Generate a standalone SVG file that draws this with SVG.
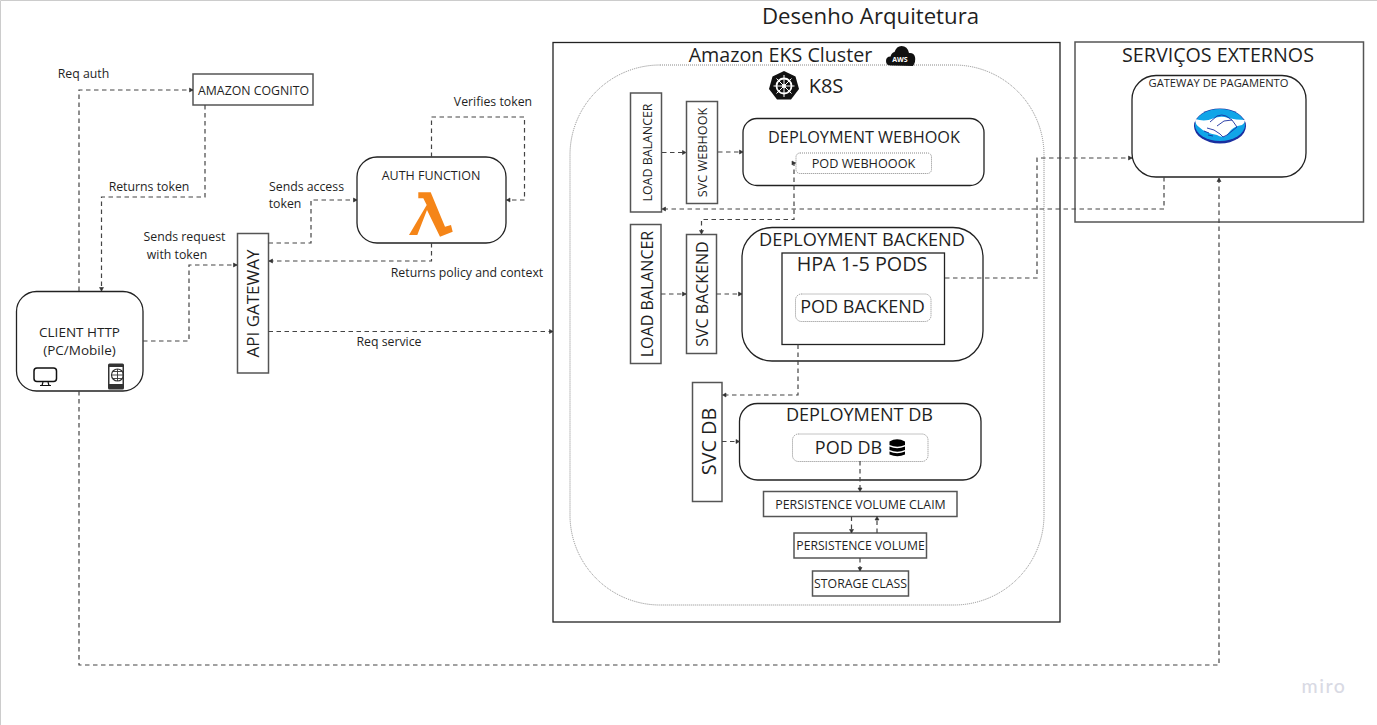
<svg xmlns="http://www.w3.org/2000/svg" width="1377" height="725" viewBox="0 0 1377 725">
<style>
text{font-family:"Open Sans","Noto Sans","DejaVu Sans",sans-serif;fill:#1f1f1f;text-anchor:middle}
.n{fill:#fff;stroke:#222;stroke-width:1.3}
.g{fill:#fff;stroke:#555;stroke-width:1.5}
.d{fill:#fff;stroke:#888;stroke-width:1;stroke-dasharray:1 1}
.c{fill:none;stroke:#444;stroke-width:1.2;stroke-dasharray:4.500 3.500}
.l{font-size:12.300px}
</style>
<defs>
<marker id="a" markerWidth="6" markerHeight="6" refX="5" refY="3" orient="auto-start-reverse" markerUnits="userSpaceOnUse"><path d="M1.500 1L5 3L1.500 5z" fill="#333" stroke="#333" stroke-width=".6"/></marker>
</defs>
<rect width="1377" height="725" fill="#fff"/>
<path d="M.5 725V.5H1377" fill="none" stroke="#ccc"/>
<text x="870.500" y="24" font-size="22.200">Desenho Arquitetura</text>
<g id="eks"><rect class="n" x="553" y="42.500" width="507" height="579.500"/></g>
<g id="k8s"><rect class="d" x="570" y="65" width="474" height="540" rx="90"/></g>
<g id="eks-title"><text x="780.500" y="62" font-size="19.700">Amazon EKS Cluster</text>
<path d="M891 65.500q-5 0-5-4.500t4.500-4.500q1-4 4-4.500q2-6 7-6q6 0 7.500 7q5-.5 6 4t-2 9z" fill="#111"/><text x="900" y="62" font-size="7" font-weight="700" style="fill:#fff">AWS</text></g>
<g id="k8s-title"><path d="M784 71l11.500 5.500 3.500 12.500-8 10.500h-14l-8-10.500 3.500-12.500z" fill="#111"/><circle cx="784" cy="86" r="7.500" fill="none" stroke="#fff" stroke-width="1.800"/><path d="M784 75v22M773.500 86h21M776.500 78.500l15 15M791.500 78.500l-15 15" stroke="#fff" stroke-width="1"/><circle cx="784" cy="86" r="2" fill="#fff"/><text x="826" y="93" font-size="20">K8S</text></g>
<g id="external"><rect class="g" x="1075" y="42" width="288.500" height="180"/><text x="1218" y="62" font-size="19.700">SERVIÇOS EXTERNOS</text></g>

<g id="edge-labels" class="l">
<text x="83.500" y="78">Req auth</text>
<text x="149" y="191">Returns token</text>
<text x="306.500" y="191">Sends access</text><text x="285" y="208">token</text>
<text x="184.500" y="241">Sends request</text><text x="177" y="259">with token</text>
<text x="493" y="106">Verifies token</text>
<text x="467" y="277">Returns policy and context</text>
<text x="389" y="346">Req service</text>
</g>

<g id="client"><rect class="n" x="16.500" y="291.500" width="126.500" height="99.500" rx="20"/><text x="79.500" y="337" font-size="13.500">CLIENT HTTP</text><text x="79.500" y="355" font-size="13.500">(PC/Mobile)</text>
<rect x="34" y="368" width="22.500" height="13.500" rx="3" fill="none" stroke="#111" stroke-width="1.500"/><path d="M40 385.500h11M43 382l-1 3.500M48 382l1 3.500" stroke="#111" stroke-width="1.200" fill="none"/>
<rect x="108" y="363.500" width="16" height="26" rx="1.500" fill="#333"/><rect x="109.500" y="367" width="13" height="17" fill="#fff"/><circle cx="117.500" cy="375" r="6" fill="none" stroke="#333" stroke-width="1.200"/><path d="M111.500 375h12M117.500 369v12M113 371.500h9M113 378.500h9" stroke="#333" stroke-width=".9"/></g>
<g id="cognito"><rect class="g" x="193" y="74" width="120" height="31"/><text x="253.500" y="95" font-size="12.300">AMAZON COGNITO</text></g>
<g id="api"><rect class="g" x="237.500" y="233.500" width="31" height="139.500"/><text transform="translate(259 303.500) rotate(-90)" font-size="17">API GATEWAY</text></g>
<g id="auth"><rect class="n" x="357" y="157" width="149" height="86" rx="20"/><text x="431" y="180" font-size="12.500">AUTH FUNCTION</text><path d="M418.300 192.300H430.700L445 226.700L451 225L452.700 231.700L440 236.700L427 210L417.300 235H409L426.700 205L423.300 198.300H418.300z" fill="#f58518"/></g>
<g id="lb1"><rect class="g" x="630.500" y="93" width="31" height="119"/><text transform="translate(651.500 152.500) rotate(-90)" font-size="12.400">LOAD BALANCER</text></g>
<g id="svc-webhook"><rect class="g" x="686.500" y="101.500" width="31" height="102"/><text transform="translate(707 152.500) rotate(-90)" font-size="12.700">SVC WEBHOOK</text></g>
<g id="dep-webhook"><rect class="n" x="743" y="118.500" width="241" height="67" rx="14"/><text x="864" y="143" font-size="16.300">DEPLOYMENT WEBHOOK</text></g>
<g id="pod-webhook"><rect class="d" x="796" y="153" width="135.500" height="20.500" rx="4"/><text x="863.500" y="168" font-size="12.700">POD WEBHOOOK</text></g>
<g id="lb2"><rect class="g" x="630.500" y="224.500" width="30.500" height="139"/><text transform="translate(652.500 294) rotate(-90)" font-size="16">LOAD BALANCER</text></g>
<g id="svc-backend"><rect class="g" x="686.500" y="234.500" width="30" height="119"/><text transform="translate(708 294) rotate(-90)" font-size="16">SVC BACKEND</text></g>
<g id="dep-backend"><rect class="n" x="742" y="227.500" width="241" height="133.500" rx="30"/><text x="862" y="246" font-size="18.200">DEPLOYMENT BACKEND</text></g>
<g id="hpa"><rect class="n" x="782" y="253" width="162.500" height="91.500"/><text x="862" y="271" font-size="19.800">HPA 1-5 PODS</text></g>
<g id="pod-backend"><rect class="d" x="795.500" y="294" width="135.500" height="27.500" rx="6"/><text x="862.500" y="313" font-size="18">POD BACKEND</text></g>
<g id="svc-db"><rect class="g" x="692.500" y="382.500" width="29.500" height="119"/><text transform="translate(715.500 441.500) rotate(-90)" font-size="19.800">SVC DB</text></g>
<g id="dep-db"><rect class="n" x="739.500" y="403.500" width="241.500" height="76.500" rx="18"/><text x="859.500" y="421" font-size="18.100">DEPLOYMENT DB</text></g>
<g id="pod-db"><rect class="d" x="792.500" y="434" width="135.500" height="27.500" rx="6"/><text x="848.500" y="454" font-size="18">POD DB</text><path d="M889.500 441.500q7.500-4.500 15.500 0v3.500q-7.500 3.500-15.500 0zM889.500 446.500q7.500 3.500 15.500 0v3.500q-7.500 3.500-15.500 0zM889.500 451.500q7.500 3.500 15.500 0v3q-7.500 3.500-15.500 0z" fill="#000"/></g>
<g id="pvc"><rect class="g" x="763.500" y="491.500" width="193.500" height="25"/><text x="860.500" y="509" font-size="12.400">PERSISTENCE VOLUME CLAIM</text></g>
<g id="pv"><rect class="g" x="794" y="533" width="132.500" height="25"/><text x="860.500" y="550" font-size="12.200">PERSISTENCE VOLUME</text></g>
<g id="sc"><rect class="g" x="812.500" y="571" width="96" height="25"/><text x="860.500" y="588" font-size="12.300">STORAGE CLASS</text></g>
<g id="gateway"><rect class="n" x="1132" y="75.500" width="174" height="101.500" rx="24"/><text x="1218.500" y="87" font-size="11.200">GATEWAY DE PAGAMENTO</text>
<ellipse cx="1220" cy="126" rx="26" ry="17.500" fill="#1a2fa0"/><ellipse cx="1220" cy="125" rx="25" ry="16" fill="#10a5e8"/><path d="M1195 119q10 3 18-.5 8-3 15-.5 8 2 17 2 0 3-3 5-7 1-11 5l-5 6q-5 2-9-1-12-2-18-8-4-3-4-8z" fill="#fff"/><path d="M1210 122l7-6q5-2 9 0l6 4 5 7M1232 120l-8 1-7 5M1237 127l-10 8-4 2M1207 128l7 2 6 4 3 3M1204 131l5 2M1208 135l5 1" fill="none" stroke="#1a2fa0" stroke-width=".9"/></g>
<text x="1324" y="693" font-size="19.500" font-weight="500" letter-spacing="1.600" style="fill:#d9dae4;font-family:Lato,sans-serif">miro</text>

<g id="connectors">
<path class="c" marker-end="url(#a)" d="M79 291V90H193"/>
<path class="c" marker-end="url(#a)" d="M79 391V665H1219V178"/>
<path class="c" marker-end="url(#a)" d="M205 105V197H101.500V291"/>
<path class="c" marker-end="url(#a)" d="M143 341H189V265H237"/>
<path class="c" marker-end="url(#a)" d="M268.500 243H311V200H357"/>
<path class="c" marker-end="url(#a)" d="M431.500 243V261H269"/>
<path class="c" marker-end="url(#a)" d="M431.500 157V117H524.500V200H506.500"/>
<path class="c" marker-end="url(#a)" d="M268.500 331.500H553"/>
<path class="c" marker-end="url(#a)" d="M662 152.500H686"/>
<path class="c" marker-end="url(#a)" d="M718 152H743"/>
<path class="c" marker-end="url(#a)" d="M661 294H686"/>
<path class="c" marker-end="url(#a)" d="M716.500 294H742"/>
<path class="c" marker-start="url(#a)" marker-end="url(#a)" d="M795.500 163H794V219.500H701.500V234"/>
<path class="c" marker-end="url(#a)" d="M1164 177V209H662"/>
<path class="c" marker-end="url(#a)" d="M945 278H1037V158H1132"/>
<path class="c" marker-end="url(#a)" d="M798 344.500V395H722.500"/>
<path class="c" marker-end="url(#a)" d="M722 441.500H739.500"/>
<path class="c" marker-end="url(#a)" d="M860 461V491.500"/>
<path class="c" marker-end="url(#a)" d="M851.500 516.500V533"/>
<path class="c" marker-end="url(#a)" d="M877 533V516.500"/>
<path class="c" marker-end="url(#a)" d="M860 558V571"/>
</g>
</svg>
